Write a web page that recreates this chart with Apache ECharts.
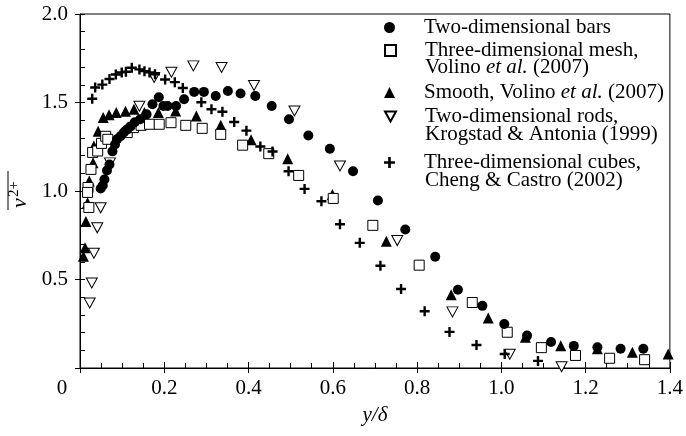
<!DOCTYPE html>
<html lang="en">
<head>
<meta charset="UTF-8">
<title>v2+ profiles</title>
<style>
  html, body { margin: 0; padding: 0; background: #fff; }
  #main { width: 686px; height: 436px; }
</style>
</head>
<body>
<div id="main"></div>
<script src="https://cdn.jsdelivr.net/npm/echarts@6/dist/echarts.min.js"></script>
<script>
// [y/delta, v'2+]
var bars2d = [
  [0.049, 1.014], [0.054, 1.031], [0.058, 1.065], [0.064, 1.116], [0.070, 1.150],
  [0.077, 1.224], [0.083, 1.263], [0.088, 1.292], [0.096, 1.309], [0.104, 1.331],
  [0.112, 1.348], [0.120, 1.365], [0.130, 1.388], [0.143, 1.405], [0.158, 1.433],
  [0.172, 1.490], [0.187, 1.530], [0.198, 1.480], [0.208, 1.480], [0.228, 1.480],
  [0.247, 1.518], [0.271, 1.560], [0.294, 1.560], [0.322, 1.537], [0.351, 1.565],
  [0.381, 1.551], [0.416, 1.537], [0.455, 1.480], [0.496, 1.405], [0.542, 1.314],
  [0.593, 1.239], [0.648, 1.112], [0.707, 0.946], [0.772, 0.782], [0.843, 0.629],
  [0.897, 0.442], [0.955, 0.351], [1.007, 0.249], [1.061, 0.183], [1.118, 0.147],
  [1.172, 0.125], [1.228, 0.117], [1.283, 0.109], [1.337, 0.109]
];
var mesh3d = [
  [0.019, 1.020], [0.018, 0.992], [0.021, 0.907], [0.026, 1.122], [0.030, 1.218],
  [0.042, 1.226], [0.051, 1.269], [0.061, 1.309], [0.066, 1.292], [0.112, 1.330],
  [0.127, 1.358], [0.145, 1.371], [0.165, 1.377], [0.188, 1.377], [0.216, 1.386],
  [0.251, 1.371], [0.290, 1.354], [0.334, 1.320], [0.386, 1.259], [0.448, 1.211],
  [0.519, 1.088], [0.601, 0.958], [0.695, 0.806], [0.805, 0.581], [0.931, 0.370],
  [1.014, 0.202], [1.095, 0.115], [1.176, 0.071], [1.257, 0.055], [1.340, 0.047]
];
var smooth = [
  [0.008, 0.632], [0.012, 0.680], [0.014, 0.827], [0.018, 0.933], [0.022, 1.056],
  [0.031, 1.160], [0.033, 1.254], [0.043, 1.337], [0.055, 1.415], [0.069, 1.431],
  [0.086, 1.443], [0.108, 1.450], [0.128, 1.462], [0.153, 1.443], [0.186, 1.443],
  [0.227, 1.452], [0.276, 1.424], [0.334, 1.371], [0.406, 1.290], [0.493, 1.182],
  [0.599, 0.980], [0.727, 0.716], [0.881, 0.414], [0.969, 0.282], [1.057, 0.174],
  [1.141, 0.126], [1.228, 0.109], [1.311, 0.089], [1.396, 0.079]
];
var rods2d = [
  [0.023, 0.367], [0.028, 0.480], [0.033, 0.648], [0.041, 0.792], [0.049, 0.905],
  [0.071, 1.159], [0.141, 1.479], [0.176, 1.641], [0.217, 1.671], [0.269, 1.707],
  [0.336, 1.698], [0.413, 1.596], [0.509, 1.452], [0.617, 1.141], [0.753, 0.720],
  [0.884, 0.317], [1.020, 0.078], [1.143, 0.007]
];
var cubes3d = [
  [0.029, 1.521], [0.036, 1.585], [0.053, 1.601], [0.070, 1.633], [0.085, 1.658],
  [0.099, 1.670], [0.109, 1.674], [0.123, 1.696], [0.141, 1.687], [0.153, 1.677],
  [0.165, 1.670], [0.178, 1.660], [0.202, 1.630], [0.225, 1.615], [0.244, 1.582],
  [0.288, 1.501], [0.312, 1.462], [0.338, 1.448], [0.366, 1.390], [0.395, 1.341],
  [0.428, 1.251], [0.457, 1.223], [0.495, 1.112], [0.533, 1.012], [0.573, 0.942],
  [0.617, 0.812], [0.664, 0.707], [0.713, 0.578], [0.762, 0.446], [0.818, 0.321],
  [0.877, 0.204], [0.941, 0.130], [1.008, 0.079], [1.087, 0.040]
];

var names = ['Two-dimensional bars', 'Three-dimensional mesh,', 'Smooth, Volino et al. (2007)',
             'Two-dimensional rods,', 'Three-dimensional cubes,'];
var secondLines = ['Volino et al. (2007)', 'Krogstad & Antonia (1999)', 'Cheng & Castro (2002)'];

var FONT = 'Liberation Serif';
var FS = 21;
var plusPath = 'path://M3.8,0H6.2V3.8H10V6.2H6.2V10H3.8V6.2H0V3.8H3.8Z';
var downTri = 'path://M0,0L10,0L5,9Z';

var chart = echarts.init(document.getElementById('main'));

// one legend per entry so each sits where the figure has it
function legendAt(name, top) {
  return {
    data: [name], left: 384, top: top, padding: 0,
    itemWidth: 11, itemHeight: 11, selectedMode: false,
    formatter: function (n) {
      if (n.indexOf('et al.') >= 0) {
        var p = n.split('et al.');
        return '{p| }{n|' + p[0] + '}{i|et al.}{n|' + p[1] + '}';
      }
      return '{p| }{n|' + n + '}';
    },
    textStyle: {
      rich: {
        p: { width: 24 },
        n: { fontFamily: FONT, fontSize: FS, color: '#000' },
        i: { fontFamily: FONT, fontSize: FS, fontStyle: 'italic', color: '#000' }
      }
    }
  };
}

// continuation lines of the two-line legend entries
function line2(text, y) {
  var parts = text.split('et al.');
  var rich = {
    n: { fontFamily: FONT, fontSize: FS, fill: '#000' },
    i: { fontFamily: FONT, fontSize: FS, fontStyle: 'italic', fill: '#000' }
  };
  var t = parts.length > 1 ? '{n|' + parts[0] + '}{i|et al.}{n|' + parts[1] + '}' : '{n|' + text + '}';
  return { type: 'text', x: 425, y: y, style: { text: t, rich: rich, verticalAlign: 'middle' } };
}

var option = {
  animation: false,
  grid: { left: 80, right: 12, top: 14, bottom: 68, show: true, borderColor: '#000', borderWidth: 1 },
  legend: [
    legendAt(names[0], 17),
    legendAt(names[1], 40),
    legendAt(names[2], 82),
    legendAt(names[3], 106),
    legendAt(names[4], 152)
  ],
  xAxis: [{
    type: 'value', min: 0, max: 1.4, interval: 0.2,
    axisLine: { lineStyle: { color: '#000', width: 1 } },
    axisTick: { inside: true, length: 6, lineStyle: { color: '#000' } },
    minorTick: { show: true, splitNumber: 4, length: 5, lineStyle: { color: '#000' } },
    splitLine: { show: false },
    axisLabel: {
      color: '#000', fontFamily: FONT, fontSize: FS, margin: 10,
      formatter: function (v) { return v === 0 ? '{z|0}' : v.toFixed(1); },
      rich: { z: { fontFamily: FONT, fontSize: FS, padding: [0, 36, 0, 0] } }
    },
    name: 'y/δ', nameLocation: 'middle', nameGap: 37,
    nameTextStyle: { color: '#000', fontFamily: FONT, fontSize: FS, fontStyle: 'italic' }
  }, {
    type: 'value', min: 0, max: 1.4, interval: 0.2, position: 'bottom',
    axisLine: { show: false }, axisLabel: { show: false }, splitLine: { show: false },
    axisTick: { inside: false, length: 5, lineStyle: { color: '#000' } }
  }],
  yAxis: [{
    type: 'value', min: 0, max: 2, interval: 0.5,
    axisLine: { show: true, lineStyle: { color: '#000', width: 1 } },
    axisTick: { show: true, inside: true, length: 5, lineStyle: { color: '#000' } },
    minorTick: { show: true, splitNumber: 5, length: 5, lineStyle: { color: '#000' } },
    splitLine: { show: false },
    axisLabel: {
      color: '#000', fontFamily: FONT, fontSize: FS, margin: 12,
      formatter: function (v) { return v === 0 ? '' : v.toFixed(1); }
    }
  }, {
    type: 'value', min: 0, max: 2, interval: 0.5, position: 'left',
    axisLine: { show: false }, axisLabel: { show: false }, splitLine: { show: false },
    axisTick: { show: true, inside: false, length: 5, lineStyle: { color: '#000' } }
  }],
  graphic: [
    line2(secondLines[0], 67),
    line2(secondLines[1], 134),
    line2(secondLines[2], 180),
    {
      type: 'group', x: 19, y: 208, rotation: Math.PI / 2,
      children: [
        { type: 'text', x: 0, y: 1, style: { text: 'v', fontFamily: FONT, fontSize: 22, fontStyle: 'italic', fill: '#000', verticalAlign: 'middle' } },
        { type: 'text', x: 11, y: -5, style: { text: '2+', fontFamily: FONT, fontSize: 15, fill: '#000', verticalAlign: 'middle' } },
        { type: 'line', shape: { x1: -2, y1: -11, x2: 37, y2: -11 }, style: { stroke: '#000', lineWidth: 1 } }
      ]
    }
  ],
  series: [
    { name: names[0], type: 'scatter', data: bars2d, symbol: 'circle', symbolSize: 10, z: 4,
      itemStyle: { color: '#000', opacity: 1 } },
    { name: names[1], type: 'scatter', data: mesh3d, symbol: 'rect', symbolSize: 10, z: 3,
      itemStyle: { color: '#fff', borderColor: '#000', borderWidth: 1, opacity: 1 } },
    { name: names[2], type: 'scatter', data: smooth, symbol: 'triangle', symbolSize: 11, z: 2,
      itemStyle: { color: '#000', opacity: 1 } },
    { name: names[3], type: 'scatter', data: rods2d, symbol: downTri, symbolSize: [11, 10], z: 3,
      itemStyle: { color: '#fff', borderColor: '#000', borderWidth: 1, opacity: 1 } },
    { name: names[4], type: 'scatter', data: cubes3d, symbol: plusPath, symbolSize: 10, z: 5,
      itemStyle: { color: '#000', opacity: 1 } }
  ]
};
chart.setOption(option);
</script>
</body>
</html>
